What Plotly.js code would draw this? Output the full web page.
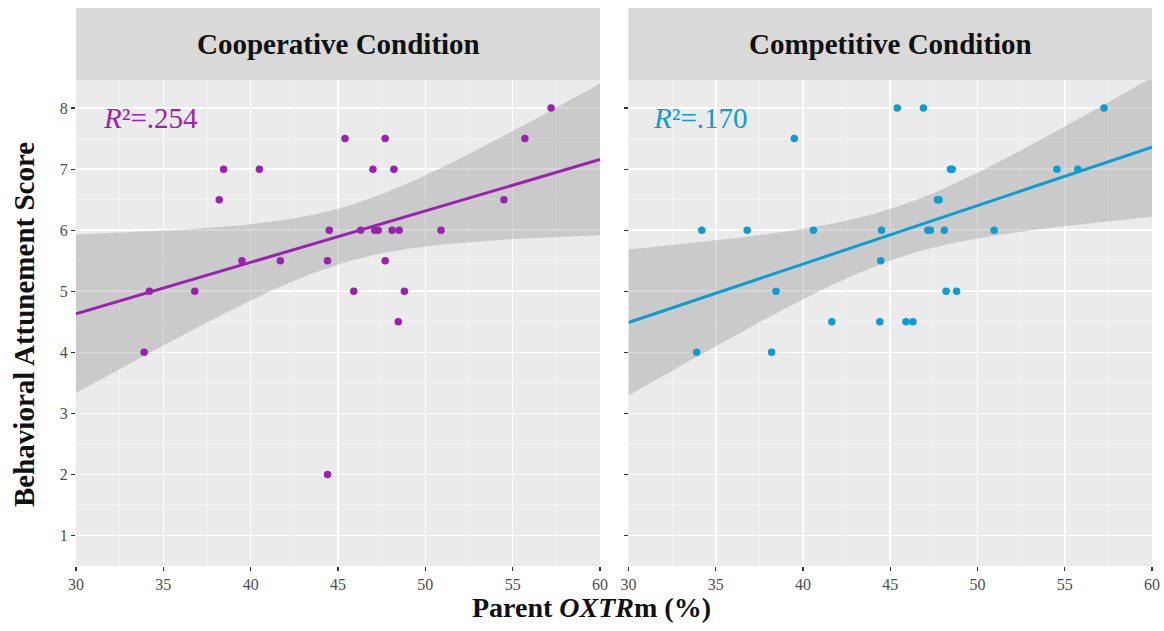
<!DOCTYPE html>
<html>
<head>
<meta charset="utf-8">
<script src="https://cdn.plot.ly/plotly-3.0.1.min.js"></script>
<style>html,body{margin:0;padding:0;background:#fff;}#chart{width:1164px;height:631px;}</style>
</head>
<body>
<div id="chart"></div>
<script>
// ---- Data ----
const panelTitles = ["Cooperative Condition", "Competitive Condition"];
const r2Labels = ["=.254", "=.170"];

const coopX = [33.9, 34.2, 36.8, 38.2, 38.45, 39.5, 40.5, 41.7, 44.4, 44.4, 44.5, 45.4, 45.9, 46.3,
               47.0, 47.1, 47.3, 47.7, 47.7, 48.1, 48.2, 48.45, 48.5, 48.8, 50.9, 54.5, 55.7, 57.2];
const coopY = [4.0, 5.0, 5.0, 6.5, 7.0, 5.5, 7.0, 5.5, 2.0, 5.5, 6.0, 7.5, 5.0, 6.0,
               7.0, 6.0, 6.0, 7.5, 5.5, 6.0, 7.0, 4.5, 6.0, 5.0, 6.0, 6.5, 7.5, 8.0];

const compX = [33.9, 34.2, 36.8, 38.2, 38.45, 39.5, 40.6, 41.65, 44.4, 44.45, 44.5, 45.4, 45.9, 46.3,
               46.9, 47.15, 47.3, 47.7, 47.8, 48.1, 48.2, 48.45, 48.55, 48.8, 50.95, 54.55, 55.75, 57.25];
const compY = [4.0, 6.0, 6.0, 4.0, 5.0, 7.5, 6.0, 4.5, 4.5, 5.5, 6.0, 8.0, 4.5, 4.5,
               8.0, 6.0, 6.0, 6.5, 6.5, 6.0, 5.0, 7.0, 7.0, 5.0, 6.0, 7.0, 7.0, 8.0];

const xTicks = [30, 35, 40, 45, 50, 55, 60];
const yTicks = [1, 2, 3, 4, 5, 6, 7, 8];

const coopColor = "#9b22b0";
const compColor = "#0e9dd2";

// ---- linear fit with 95% confidence band (like geom_smooth(method="lm")) ----
function tQuantile975(df) {
  const z = 1.959963985;
  const z3 = z*z*z, z5 = z3*z*z, z7 = z5*z*z;
  return z + (z3 + z)/(4*df) + (5*z5 + 16*z3 + 3*z)/(96*df*df)
           + (3*z7 + 19*z5 + 17*z3 - 15*z)/(384*df*df*df);
}
function lmFit(xs, ys, x0, x1, nGrid) {
  const n = xs.length;
  const mx = xs.reduce((a,b)=>a+b,0)/n, my = ys.reduce((a,b)=>a+b,0)/n;
  let sxx = 0, sxy = 0;
  for (let i=0;i<n;i++){ sxx += (xs[i]-mx)**2; sxy += (xs[i]-mx)*(ys[i]-my); }
  const b = sxy/sxx, a = my - b*mx;
  let sse = 0;
  for (let i=0;i<n;i++){ sse += (ys[i]-a-b*xs[i])**2; }
  const s = Math.sqrt(sse/(n-2));
  const t = tQuantile975(n-2);
  const gx=[], gy=[], lo=[], hi=[];
  for (let k=0;k<nGrid;k++){
    const x = x0 + (x1-x0)*k/(nGrid-1);
    const y = a + b*x;
    const se = s*Math.sqrt(1/n + (x-mx)**2/sxx);
    gx.push(x); gy.push(y); lo.push(y - t*se); hi.push(y + t*se);
  }
  return {gx, gy, lo, hi};
}

const serif = "Liberation Serif";

function panelTraces(xs, ys, color, xa, ya) {
  const f = lmFit(xs, ys, 30, 60, 80);
  return [
    { x: f.gx.concat(f.gx.slice().reverse()), y: f.hi.concat(f.lo.slice().reverse()),
      type: "scatter", mode: "lines", fill: "toself", fillcolor: "rgba(153,153,153,0.4)",
      line: {width: 0}, hoverinfo: "skip", xaxis: xa, yaxis: ya, showlegend: false },
    { x: f.gx, y: f.gy, type: "scatter", mode: "lines",
      line: {color: color, width: 3}, xaxis: xa, yaxis: ya, showlegend: false },
    { x: xs, y: ys, type: "scatter", mode: "markers",
      marker: {color: color, size: 7.5}, xaxis: xa, yaxis: ya, showlegend: false }
  ];
}

const data = [].concat(
  panelTraces(coopX, coopY, coopColor, "x", "y"),
  panelTraces(compX, compY, compColor, "x2", "y2")
);

function xAxis(domain, anchor) {
  return {
    domain: domain, anchor: anchor, range: [30, 60], fixedrange: true,
    tickvals: xTicks, ticktext: xTicks.map(String),
    ticks: "outside", ticklen: 4, tickwidth: 1.2, tickcolor: "#333333",
    tickfont: {family: serif, size: 16, color: "#4d4d4d"},
    showgrid: true, gridcolor: "#ffffff", gridwidth: 1.6,
    minor: {dtick: 2.5, tick0: 30, showgrid: true, gridcolor: "#f5f5f5", gridwidth: 0.8, ticks: ""},
    zeroline: false, showline: false
  };
}
function yAxis(anchor, showLabels) {
  return {
    domain: [0, 1], anchor: anchor, range: [0.5, 8.46], fixedrange: true,
    tickvals: yTicks, ticktext: yTicks.map(String), showticklabels: showLabels,
    ticks: "outside", ticklen: 4, tickwidth: 1.2, tickcolor: "#333333",
    tickfont: {family: serif, size: 16, color: "#4d4d4d"},
    showgrid: true, gridcolor: "#ffffff", gridwidth: 1.6,
    minor: {dtick: 0.5, tick0: 0.5, showgrid: true, gridcolor: "#f5f5f5", gridwidth: 0.8, ticks: ""},
    zeroline: false, showline: false
  };
}

const dL = [0, 0.487], dR = [0.5135, 1];
const stripTop = 1 + 72/486;

const layout = {
  width: 1164, height: 631,
  margin: {l: 76, r: 12, t: 80, b: 65},
  paper_bgcolor: "#ffffff",
  plot_bgcolor: "#ebebeb",
  showlegend: false,
  xaxis: xAxis(dL, "y"),
  yaxis: yAxis("x", true),
  xaxis2: xAxis(dR, "y2"),
  yaxis2: yAxis("x2", false),
  shapes: [
    {type: "rect", xref: "paper", yref: "paper", x0: dL[0], x1: dL[1], y0: 1, y1: stripTop,
     fillcolor: "#d9d9d9", line: {width: 0}, layer: "below"},
    {type: "rect", xref: "paper", yref: "paper", x0: dR[0], x1: dR[1], y0: 1, y1: stripTop,
     fillcolor: "#d9d9d9", line: {width: 0}, layer: "below"},
    {type: "rect", xref: "x2 domain", yref: "y2 domain", x0: 0, x1: 1, y0: 0, y1: 1,
     fillcolor: "#ebebeb", line: {width: 0}, layer: "below"}
  ],
  annotations: [
    {xref: "paper", yref: "paper", x: (dL[0]+dL[1])/2, y: (1+stripTop)/2, text: "<b>" + panelTitles[0] + "</b>",
     showarrow: false, font: {family: serif, size: 29, color: "#111111"}, xanchor: "center", yanchor: "middle"},
    {xref: "paper", yref: "paper", x: (dR[0]+dR[1])/2, y: (1+stripTop)/2, text: "<b>" + panelTitles[1] + "</b>",
     showarrow: false, font: {family: serif, size: 29, color: "#111111"}, xanchor: "center", yanchor: "middle"},
    {xref: "x", yref: "y", x: 31.45, y: 7.84, text: "<i>R</i>²" + r2Labels[0],
     showarrow: false, font: {family: serif, size: 29, color: coopColor}, xanchor: "left", yanchor: "middle"},
    {xref: "x2", yref: "y2", x: 31.3, y: 7.84, text: "<i>R</i>²" + r2Labels[1],
     showarrow: false, font: {family: serif, size: 29, color: compColor}, xanchor: "left", yanchor: "middle"},
    {xref: "paper", yref: "paper", x: (591-76)/1076, y: -(607-566)/486,
     text: "<b>Parent <i>OXTR</i>m (%)</b>", showarrow: false,
     font: {family: serif, size: 28, color: "#111111"}, xanchor: "center", yanchor: "middle"},
    {xref: "paper", yref: "paper", x: -(76-24)/1076, y: 1-(325-80)/486,
     text: "<b>Behavioral Attunement Score</b>", showarrow: false, textangle: -90,
     font: {family: serif, size: 29, color: "#111111"}, xanchor: "center", yanchor: "middle"}
  ]
};

Plotly.newPlot("chart", data, layout, {staticPlot: true, displayModeBar: false});
</script>
</body>
</html>
